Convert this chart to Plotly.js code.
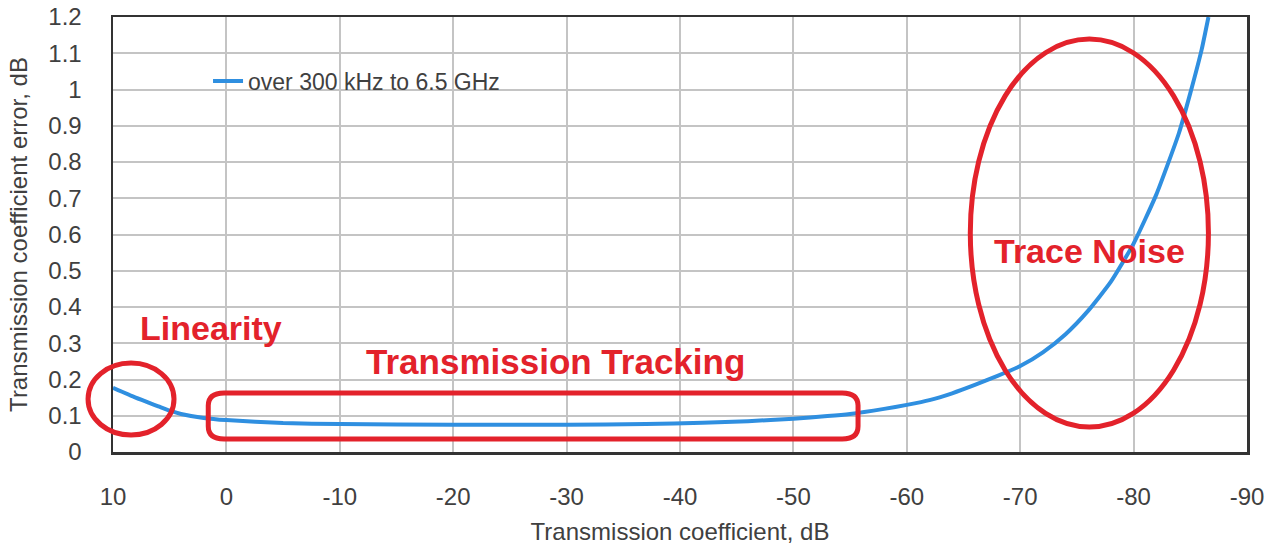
<!DOCTYPE html>
<html>
<head>
<meta charset="utf-8">
<script src="https://cdn.plot.ly/plotly-3.0.1.min.js"></script>
<style>html,body{margin:0;padding:0;background:#fff;}#chart{width:1272px;height:546px;}</style>
</head>
<body>
<div id="chart"></div>
<script>
// Transmission coefficient (dB)
const xCoef = [10, 8, 6, 5, 4, 2, 0, -5, -10, -20, -30, -37, -42, -46, -50, -53, -55, -58, -60, -62, -64, -66, -68, -70, -72, -74, -76, -78, -80, -82, -84, -85, -86, -86.6];
// Transmission coefficient error (dB)
const yErr = [0.177, 0.15, 0.126, 0.114, 0.105, 0.094, 0.088, 0.08, 0.077, 0.075, 0.075, 0.077, 0.081, 0.085, 0.092, 0.099, 0.105, 0.119, 0.13, 0.143, 0.162, 0.185, 0.21, 0.237, 0.275, 0.325, 0.39, 0.47, 0.575, 0.71, 0.88, 0.99, 1.11, 1.2];
const seriesName = 'over 300 kHz to 6.5 GHz';
const xTickVals = [10, 0, -10, -20, -30, -40, -50, -60, -70, -80, -90];
const xTickText = ['10', '0', '-10', '-20', '-30', '-40', '-50', '-60', '-70', '-80', '-90'];
const regionLabels = ['Linearity', 'Transmission Tracking', 'Trace Noise'];

const FONT = 'Liberation Sans, Arial, sans-serif';
const RED = '#e3222b';
const TXT = '#404040';

const trace = {
  x: xCoef, y: yErr, name: seriesName, type: 'scatter', mode: 'lines',
  line: {color: '#2f8fe0', width: 4, shape: 'spline', smoothing: 0.5},
  showlegend: true
};

// rounded rectangle (Transmission Tracking), data coords
const L = 1.6, R = -55.7, B = 0.036, T = 0.163, rx = 1.4, ry = 0.035;
const rrect = `M ${L - rx},${B} L ${R + rx},${B} Q ${R},${B} ${R},${B + ry} L ${R},${T - ry} Q ${R},${T} ${R + rx},${T} L ${L - rx},${T} Q ${L},${T} ${L},${T - ry} L ${L},${B + ry} Q ${L},${B} ${L - rx},${B} Z`;

const layout = {
  width: 1272, height: 546,
  margin: {l: 113, r: 25, t: 17, b: 94},
  paper_bgcolor: '#fff', plot_bgcolor: '#fff',
  font: {family: FONT, color: TXT},
  showlegend: true,
  legend: {x: 0.0838, xanchor: 'left', y: 0.853, yanchor: 'middle', bgcolor: 'rgba(0,0,0,0)',
           font: {family: FONT, size: 23, color: TXT}},
  xaxis: {
    range: [10, -90], tickvals: xTickVals, ticktext: xTickText,
    showgrid: true, gridcolor: '#c4c4c4', gridwidth: 2, zeroline: false,
    showline: true, mirror: true, linecolor: '#333', linewidth: 2.5,
    ticks: '', ticklabelstandoff: 22,
    tickfont: {family: FONT, size: 24, color: TXT},
    title: {text: 'Transmission coefficient, dB', font: {family: FONT, size: 24, color: TXT}, standoff: 14}
  },
  yaxis: {
    range: [0, 1.2], dtick: 0.1, tick0: 0,
    showgrid: true, gridcolor: '#c4c4c4', gridwidth: 2, zeroline: false,
    showline: true, mirror: true, linecolor: '#333', linewidth: 2.5,
    ticks: '', ticklabelstandoff: 24,
    tickfont: {family: FONT, size: 24, color: TXT},
    title: {text: 'Transmission coefficient error, dB', font: {family: FONT, size: 24, color: TXT}, standoff: 14}
  },
  shapes: [
    {type: 'circle', xref: 'paper', yref: 'paper', x0: -0.022, x1: 0.0538, y0: 0.039, y1: 0.2046, line: {color: RED, width: 5}},
    {type: 'path', xref: 'x', yref: 'y', path: rrect, line: {color: RED, width: 5}},
    {type: 'circle', xref: 'x', yref: 'y', x0: -65.6, x1: -86.6, y0: 0.069, y1: 1.139, line: {color: RED, width: 5}}
  ],
  annotations: [
    {x: 1.36, y: 0.342, xref: 'x', yref: 'y', text: regionLabels[0], showarrow: false,
     font: {family: FONT, size: 34, color: RED, weight: 'bold'}},
    {x: -28.98, y: 0.251, xref: 'x', yref: 'y', text: regionLabels[1], showarrow: false,
     font: {family: FONT, size: 35, color: RED, weight: 'bold'}},
    {x: -76.07, y: 0.555, xref: 'x', yref: 'y', text: regionLabels[2], showarrow: false,
     font: {family: FONT, size: 34, color: RED, weight: 'bold'}}
  ]
};

Plotly.newPlot('chart', [trace], layout, {staticPlot: true, displayModeBar: false});
</script>
</body>
</html>
